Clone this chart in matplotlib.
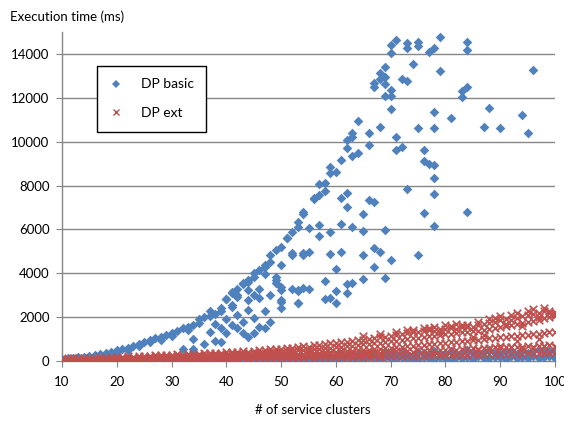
import numpy as np
import matplotlib.pyplot as plt
from matplotlib.lines import Line2D

# DP basic - main scattered points (x = # of service clusters, y = ms)
basic_x = [10, 11, 12, 13, 14, 15, 16, 17, 18, 19,
           20, 21, 22, 23, 24, 25, 26, 27, 28, 29,
           30, 31, 32, 32, 33, 34, 34, 34, 35, 36, 36, 37, 37, 38, 38, 38,
           39, 39, 39, 40, 40, 40, 40, 41, 41, 41, 41, 41,
           42, 42, 42, 42, 43, 43, 43, 43, 44, 44, 44, 44, 44, 44,
           45, 45, 45, 45, 46, 46, 46, 46, 47, 47, 47, 47, 47,
           48, 48, 48, 48, 49, 49, 49, 49,
           50, 50, 50, 50, 50, 50, 50, 51, 51, 52, 52, 52, 52,
           53, 53, 53, 53, 53, 53, 54, 54, 54, 54, 54, 55, 55, 55,
           56, 56, 57, 57, 57, 57, 58, 58, 58, 58, 59, 59, 59, 59, 59,
           60, 60, 60, 60, 61, 61, 61, 61, 62, 62, 62, 62, 62, 62,
           63, 63, 63, 63, 63, 64, 64, 65, 65, 65, 65, 66, 66, 66,
           67, 67, 67, 67, 67, 68, 68, 68, 68,
           69, 69, 69, 69, 69, 69, 70, 70, 70, 70, 70, 70,
           71, 71, 71, 72, 72, 73, 73, 73, 73, 74, 75, 75, 75, 75,
           76, 76, 76, 77, 77, 78, 78, 78, 78, 78, 78, 78, 79, 79,
           81, 83, 83, 84, 84, 84, 84, 87, 88, 90, 94, 95, 96,
           20, 22, 24, 26, 28, 30, 33, 35, 37, 39, 42, 45]
basic_y = [100, 120, 140, 170, 200, 230, 270, 320, 380, 420,
           500, 560, 610, 700, 780, 850, 960, 1040, 1080, 1190,
           1260, 1370, 1490, 550, 1560, 1640, 990, 550, 1900, 2020, 780, 2290, 1300, 2140, 910, 1700,
           2280, 880, 1500, 2830, 2810, 1260, 1900, 3090, 3160, 2480, 2550, 1640,
           2930, 3010, 2100, 1500, 3510, 3570, 1790, 1260, 3620, 3690, 3240, 2330, 1080, 2800,
           4030, 1950, 1260, 3000, 4150, 2890, 1560, 3300, 4300, 4380, 3970, 1490, 2300,
           4830, 4530, 1790, 3000, 5060, 3840, 3690, 3540,
           5210, 4380, 3360, 3240, 2780, 2700, 2400, 5620, 5590, 5900, 4910, 4830, 3270,
           6350, 6120, 3240, 3190, 2660, 2630, 6810, 6690, 4940, 4830, 3310, 6050, 4980, 3270,
           7370, 7420, 8060, 7570, 6200, 5700, 8100, 7770, 3650, 2810, 8860, 8590, 5900, 4860, 2860,
           8600, 4180, 3210, 2660, 9170, 7420, 6230, 4980, 10060, 9700, 7680, 7010, 3500, 3090,
           10410, 10200, 9350, 6100, 3570, 10960, 9470, 6690, 5930, 4820, 3730, 10380, 9850, 7340,
           12690, 12480, 7240, 5170, 4300, 13150, 12840, 10680, 4980,
           13420, 12930, 12630, 12080, 5970, 3770, 14030, 14390, 12360, 12080, 11500, 4610,
           14640, 10200, 9620, 12840, 9770, 14490, 14290, 12770, 7830, 13560, 14560, 14370, 10640, 4830,
           9620, 9110, 6730, 14070, 8970, 14290, 11350, 10640, 8920, 8330, 7600, 6150, 14780, 13220,
           11090, 12300, 12020, 14530, 14180, 12510, 6790, 10670, 11550, 10640, 11230, 10380, 13270,
           430, 520, 680, 850, 980, 1150, 1420, 1750, 2050, 2400, 3300, 3850]

# DP basic - points lying near zero, one pair per cluster count 10..100
clusters = list(range(10, 101))
basic_low_a = [30, 40, 35, 40, 45, 40, 50, 45, 55, 50,
               50, 60, 55, 60, 65, 60, 70, 65, 70, 75,
               70, 80, 75, 80, 85, 80, 90, 85, 90, 95,
               90, 100, 95, 100, 110, 100, 105, 110, 115, 110,
               120, 115, 125, 130, 120, 135, 140, 130, 145, 150,
               120, 90, 140, 110, 150, 100, 160, 130, 90, 170,
               140, 100, 180, 120, 150, 90, 170, 130, 110, 190,
               150, 100, 200, 130, 170, 110, 210, 140, 120, 200,
               160, 110, 220, 150, 180, 120, 230, 140, 170, 210, 150]
basic_low_b = [15, 20, 15, 25, 20, 25, 20, 30, 25, 30,
               25, 30, 35, 30, 35, 30, 40, 35, 40, 35,
               40, 45, 40, 45, 50, 45, 50, 45, 55, 50,
               55, 50, 60, 55, 60, 55, 65, 60, 65, 60,
               70, 65, 70, 75, 70, 80, 75, 80, 85, 80,
               250, 300, 220, 340, 280, 260, 360, 310, 240, 380,
               300, 270, 400, 330, 250, 420, 350, 290, 440, 370,
               320, 460, 280, 400, 480, 350, 300, 430, 500, 380,
               330, 460, 420, 300, 480, 360, 440, 520, 390, 470, 430]

# DP ext - bands per cluster count 10..100
ext_top = [110, 125, 115, 135, 140, 130, 155, 160, 150, 175,
           190, 200, 215, 205, 230, 240, 235, 255, 260, 275,
           280, 300, 290, 310, 330, 320, 345, 360, 350, 375,
           390, 400, 420, 440, 430, 470, 490, 500, 530, 550,
           570, 600, 590, 640, 680, 660, 720, 740, 770, 800,
           830, 870, 860, 920, 950, 980, 1010, 1040, 1080, 1100,
           1150, 1170, 1210, 1260, 1300, 1330, 1350, 1400, 1380, 1450,
           1470, 1500, 1480, 1530, 1560, 1550, 1620, 1700, 1720, 1800,
           1850, 1900, 1880, 1980, 2050, 2100, 2150, 2180, 2260, 2300, 2250]
ext_top2 = [70, 75, 80, 85, 90, 95, 100, 110, 105, 120,
            125, 135, 140, 150, 155, 165, 170, 180, 185, 195,
            200, 210, 215, 225, 235, 240, 250, 265, 270, 280,
            290, 300, 315, 320, 335, 350, 365, 370, 390, 400,
            420, 445, 460, 480, 505, 520, 540, 565, 580, 610,
            630, 650, 680, 700, 730, 760, 790, 810, 840, 870,
            900, 930, 960, 1000, 1030, 1060, 1090, 1120, 1160, 1190,
            1220, 1250, 1270, 1300, 1330, 1350, 1380, 1420, 1470, 1500,
            1560, 1600, 1640, 1700, 1740, 1800, 1840, 1890, 1950, 2000, 2050]
ext_mid = [50, 55, 60, 60, 65, 70, 75, 80, 80, 85,
           90, 95, 100, 105, 110, 115, 120, 125, 130, 135,
           140, 145, 150, 160, 165, 170, 175, 180, 185, 195,
           200, 205, 215, 220, 230, 240, 250, 255, 265, 280,
           290, 300, 310, 320, 335, 350, 360, 380, 390, 400,
           420, 440, 450, 470, 490, 500, 520, 540, 560, 580,
           600, 620, 650, 670, 690, 720, 740, 760, 790, 810,
           830, 860, 880, 900, 930, 950, 980, 1000, 1030, 1050,
           1080, 1100, 1130, 1150, 1180, 1200, 1230, 1250, 1280, 1300, 1320]
ext_low2 = [40, 45, 50, 50, 55, 55, 60, 65, 65, 70,
            70, 75, 80, 80, 85, 90, 90, 95, 100, 105,
            105, 110, 115, 120, 125, 130, 130, 140, 140, 150,
            150, 160, 160, 170, 175, 180, 185, 190, 200, 210,
            220, 230, 240, 250, 260, 270, 280, 290, 300, 310,
            320, 330, 300, 360, 340, 380, 350, 400, 370, 420,
            400, 440, 410, 460, 430, 480, 450, 500, 470, 520,
            490, 540, 510, 560, 530, 580, 550, 600, 570, 620,
            600, 640, 620, 660, 640, 680, 660, 700, 680, 720, 700]
ext_low = [30, 35, 40, 35, 45, 40, 50, 45, 55, 50,
           55, 60, 55, 65, 60, 70, 65, 75, 70, 80,
           75, 85, 80, 90, 85, 95, 90, 100, 95, 105,
           100, 110, 105, 115, 110, 120, 115, 125, 130, 120,
           130, 140, 135, 150, 140, 160, 150, 165, 160, 175,
           170, 180, 175, 190, 185, 200, 195, 210, 200, 220,
           215, 230, 220, 240, 235, 250, 240, 260, 255, 270,
           265, 280, 270, 290, 285, 300, 290, 310, 300, 320,
           310, 330, 320, 340, 330, 350, 340, 360, 350, 370, 360]
ext_extra_x = [74, 76, 78, 80, 82, 84, 86, 88, 89, 90, 91, 92, 93, 94, 95, 96, 97, 98, 99, 100,
               86, 88, 90, 92, 94, 96, 98, 100, 85, 87, 93, 97,
               65, 68, 71, 73, 77, 79, 81, 83]
ext_extra_y = [1400, 1500, 1550, 1650, 1700, 1650, 1800, 1900, 1950, 2050, 1700, 2100, 2200, 1600,
               2300, 2350, 2000, 2400, 2200, 2150,
               500, 600, 700, 650, 550, 600, 700, 650, 1100, 1200, 900, 1000,
               1150, 1250, 1300, 1400, 1500, 1300, 1600, 1650]

blue = '#4F81BD'
red = '#C0504D'
grid_c = '#868686'

plt.rcParams['font.family'] = ['Lato', 'DejaVu Sans']
plt.rcParams['font.size'] = 9

fig = plt.figure(figsize=(5.64, 4.21), dpi=100)
ax = fig.add_axes([0.110, 0.1425, 0.874, 0.7815])

bx = basic_x + clusters + clusters
by = basic_y + basic_low_a + basic_low_b
ax.scatter(bx, by, marker='D', s=24, color=blue, linewidths=0, zorder=3)

ex = clusters * 5 + ext_extra_x
ey = ext_top + ext_top2 + ext_mid + ext_low2 + ext_low + ext_extra_y
ax.scatter(ex, ey, marker='x', s=30, color=red, linewidths=1.2, zorder=4)

ax.set_xlim(10, 100)
ax.set_ylim(0, 15000)
ax.set_xticks(range(10, 101, 10))
ax.set_yticks(range(0, 15000, 2000))
ax.yaxis.grid(True, color=grid_c, linewidth=1)
ax.set_axisbelow(True)

for s in ['top', 'right']:
    ax.spines[s].set_visible(False)
for s in ['left', 'bottom']:
    ax.spines[s].set_color(grid_c)
    ax.spines[s].set_linewidth(1)
ax.tick_params(axis='x', direction='out', length=4, color=grid_c, pad=7, labelsize=9.5)
ax.tick_params(axis='y', direction='out', length=4, color=grid_c, pad=5, labelsize=9.5)

fig.text(0.018, 0.96, 'Execution time (ms)', fontsize=9.5, va='center', ha='left')
fig.text(0.555, 0.026, '# of service clusters', fontsize=9.5, va='center', ha='center')

handles = [Line2D([], [], marker='D', color=blue, linestyle='none', markersize=4.5, markeredgewidth=0),
           Line2D([], [], marker='x', color=red, linestyle='none', markersize=5, markeredgewidth=1.0)]
leg = ax.legend(handles, ['DP basic', 'DP ext'], loc='upper left', bbox_to_anchor=(0.07, 0.897),
                frameon=True, fancybox=False, framealpha=1, edgecolor='black',
                borderaxespad=0, borderpad=0.9, labelspacing=1.2, handlelength=1.0,
                handletextpad=1.3, fontsize=10)
leg.get_frame().set_linewidth(1.0)

fig.savefig('out.png', dpi=100)
